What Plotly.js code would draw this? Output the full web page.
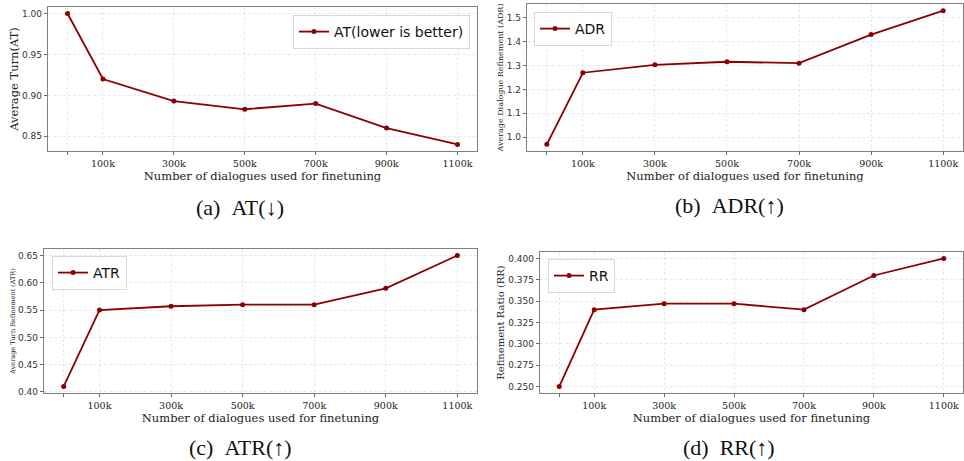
<!DOCTYPE html>
<html>
<head>
<meta charset="utf-8">
<script src="https://cdn.plot.ly/plotly-3.0.1.min.js"></script>
<style>html,body{margin:0;padding:0;background:#fff;}#chart{width:964px;height:461px;}</style>
</head>
<body>
<div id="chart"></div>
<script>
// x positions (thousands of dialogues) and tick labels
const xValues = [0, 100, 300, 500, 700, 900, 1100];
const xTickText = ['', '100k', '300k', '500k', '700k', '900k', '1100k'];

// series values
const atValues  = [1.00, 0.92, 0.893, 0.883, 0.89, 0.86, 0.84];
const adrValues = [0.97, 1.27, 1.303, 1.316, 1.31, 1.43, 1.53];
const atrValues = [0.41, 0.55, 0.557, 0.56, 0.56, 0.59, 0.65];
const rrValues  = [0.25, 0.34, 0.347, 0.347, 0.34, 0.38, 0.40];

const seriesNames = ['AT(lower is better)', 'ADR', 'ATR', 'RR'];
const yTitles = ['Average Turn(AT)', 'Average Dialogue Refinement (ADR)', 'Average Turn Refinement (ATR)', 'Refinement Ratio (RR)'];
const captions = ['(a)\u00A0\u00A0AT(\u2193)', '(b)\u00A0\u00A0ADR(\u2191)', '(c)\u00A0\u00A0ATR(\u2191)', '(d)\u00A0\u00A0RR(\u2191)'];
const yTickVals = [
  [0.85, 0.90, 0.95, 1.00],
  [1.0, 1.1, 1.2, 1.3, 1.4, 1.5],
  [0.40, 0.45, 0.50, 0.55, 0.60, 0.65],
  [0.250, 0.275, 0.300, 0.325, 0.350, 0.375, 0.400]
];
const yTickFormat = ['.2f', '.1f', '.2f', '.3f'];
const allValues = [atValues, adrValues, atrValues, rrValues];

const W = 964, H = 461;
// panel boxes in pixels: [left, right, top, bottom]
const boxes = [
  [48, 477, 7, 151],
  [527, 963, 4, 151],
  [44, 477, 249, 393],
  [540, 963, 252, 393]
];
const yTitleSizes = [11.5, 8, 6.5, 10];
const legendBoxes = [
  {x: 470, y: 15, xa: 'right'},
  {x: 534, y: 12, xa: 'left'},
  {x: 52, y: 256, xa: 'left'},
  {x: 548, y: 259, xa: 'left'}
];
const captionPos = [[240, 207], [729, 205], [240, 447], [729, 447]];

const color = '#8b0000';
const data = [];
const layout = {
  width: W, height: H,
  margin: {l: 0, r: 0, t: 0, b: 0},
  paper_bgcolor: '#fff', plot_bgcolor: '#fff',
  showlegend: true,
  annotations: []
};

function pad(vals) {
  const mn = Math.min(...vals), mx = Math.max(...vals);
  const m = (mx - mn) * 0.05;
  return [mn - m, mx + m];
}

for (let i = 0; i < 4; i++) {
  const sfx = i === 0 ? '' : String(i + 1);
  const legName = i === 0 ? 'legend' : 'legend' + (i + 1);
  data.push({
    x: xValues, y: allValues[i],
    xaxis: 'x' + sfx, yaxis: 'y' + sfx,
    type: 'scatter', mode: 'lines+markers',
    name: seriesNames[i],
    legend: legName,
    line: {color: color, width: 1.8},
    marker: {color: color, size: 5}
  });
  const b = boxes[i];
  layout['xaxis' + sfx] = {
    domain: [b[0] / W, b[1] / W],
    anchor: 'y' + sfx,
    range: [-55, 1155],
    tickmode: 'array', tickvals: xValues, ticktext: xTickText,
    ticks: 'outside', ticklen: 3, tickcolor: '#666', tickwidth: 1,
    tickfont: {family: 'DejaVu Serif', size: 9.5, color: '#222'},
    showline: true, mirror: true, linecolor: '#808080', linewidth: 1.2,
    showgrid: true, gridcolor: '#dedede', griddash: '3px,2px', gridwidth: 0.7,
    zeroline: false,
    title: {text: 'Number of dialogues used for finetuning', font: {family: 'DejaVu Serif', size: 11.5, color: '#222'}, standoff: 2}
  };
  layout['yaxis' + sfx] = {
    domain: [1 - b[3] / H, 1 - b[2] / H],
    anchor: 'x' + sfx,
    range: pad(allValues[i]),
    tickmode: 'array', tickvals: yTickVals[i], tickformat: yTickFormat[i],
    ticks: 'outside', ticklen: 3, tickcolor: '#666', tickwidth: 1,
    tickfont: {family: 'DejaVu Sans', size: 9, color: '#333'},
    showline: true, mirror: true, linecolor: '#808080', linewidth: 1.2,
    showgrid: true, gridcolor: '#dedede', griddash: '3px,2px', gridwidth: 0.7,
    zeroline: false,
    title: {text: yTitles[i], font: {family: 'DejaVu Serif', size: yTitleSizes[i], color: '#222'}, standoff: 1}
  };
  const lb = legendBoxes[i];
  layout[legName] = {
    x: lb.x / W, y: 1 - lb.y / H, xanchor: lb.xa, yanchor: 'top',
    xref: 'paper', yref: 'paper',
    bgcolor: 'rgba(255,255,255,0.85)', bordercolor: '#d8d8d8', borderwidth: 1,
    font: {family: 'DejaVu Sans', size: 14, color: '#111'},
    itemwidth: 30
  };
  const cp = captionPos[i];
  layout.annotations.push({
    text: captions[i], xref: 'paper', yref: 'paper',
    x: cp[0] / W, y: 1 - cp[1] / H, xanchor: 'center', yanchor: 'middle',
    showarrow: false,
    font: {family: 'Liberation Serif', size: 22, color: '#111'}
  });
}

Plotly.newPlot('chart', data, layout, {displayModeBar: false, staticPlot: true});
</script>
</body>
</html>
